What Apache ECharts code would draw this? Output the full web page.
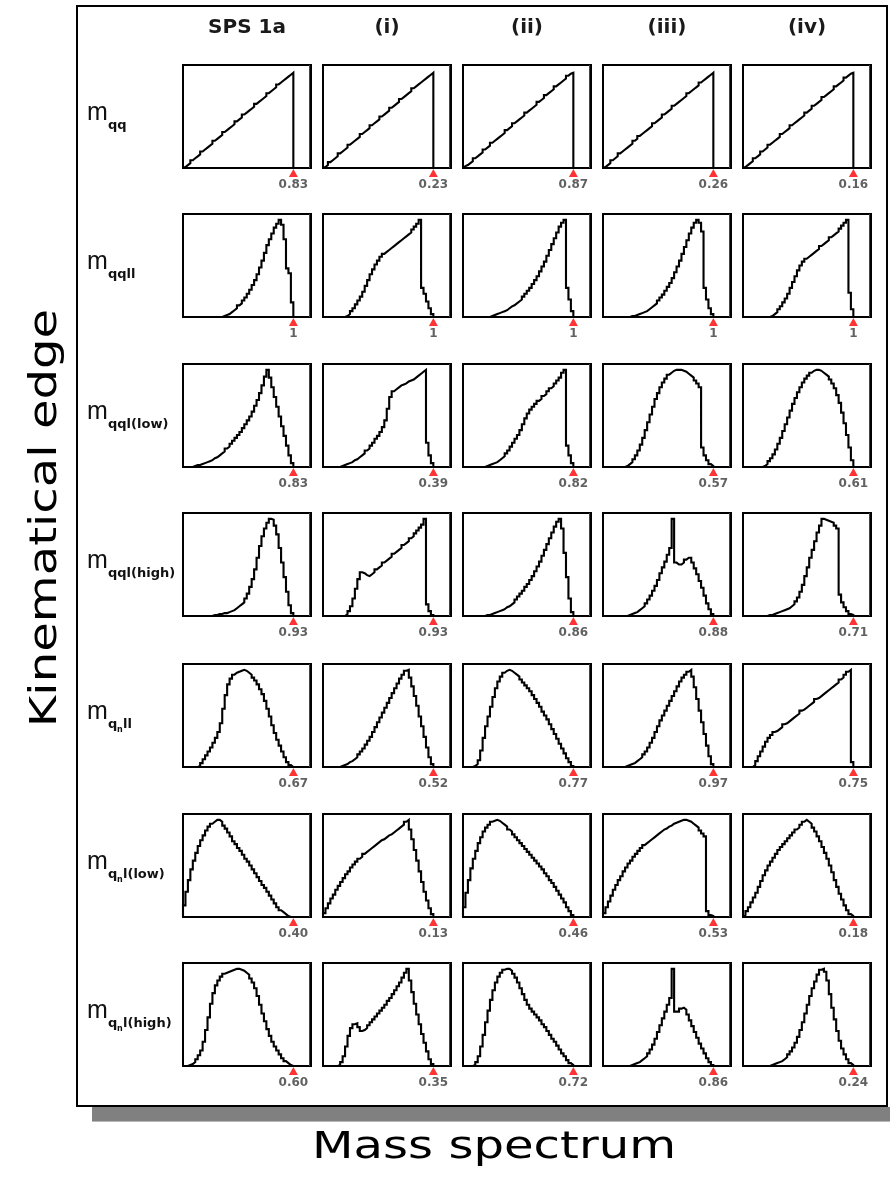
<!DOCTYPE html>
<html>
<head>
<meta charset="utf-8">
<script src="https://cdn.jsdelivr.net/npm/echarts@6/dist/echarts.min.js"></script>
<style>
  html, body { margin: 0; padding: 0; background: #fff; }
  #chart { width: 890px; height: 1182px; }
</style>
</head>
<body>
<div id="chart"></div>
<script>
// Benchmark scenarios (columns) and reconstructed invariant-mass distributions (rows)
const columns = ['SPS 1a', '(i)', '(ii)', '(iii)', '(iv)'];

// Subscript of each row's "m": plain subscript, or [q, n, rest] for q_n
const rowSubs = [
  ['qq'], ['qqll'], ['qql(low)'], ['qql(high)'],
  ['q', 'n', 'll'], ['q', 'n', 'l(low)'], ['q', 'n', 'l(high)']
];

// Value printed under the red edge marker of every panel
const edgeLabels = [
  ['0.83', '0.23', '0.87', '0.26', '0.16'],
  ['1', '1', '1', '1', '1'],
  ['0.83', '0.39', '0.82', '0.57', '0.61'],
  ['0.93', '0.93', '0.86', '0.88', '0.71'],
  ['0.67', '0.52', '0.77', '0.97', '0.75'],
  ['0.40', '0.13', '0.46', '0.53', '0.18'],
  ['0.60', '0.35', '0.72', '0.86', '0.24']
];

// Histograms: equal bins from 0 up to the kinematic edge (x = 1), peak normalised to 1
const edgeX = 1;

const h_mqq = [
  [0.01,0.03,0.05,0.08,0.10,0.12,0.14,0.17,0.19,0.21,0.23,0.25,0.28,0.30,0.32,0.34,0.37,0.39,0.41,0.43,0.45,0.48,0.50,0.52,0.55,0.57,0.59,0.61,0.63,0.66,0.68,0.70,0.72,0.74,0.77,0.79,0.81,0.83,0.86,0.88,0.90,0.92,0.94,0.96,0.98],
  [0.01,0.03,0.06,0.08,0.10,0.12,0.15,0.17,0.19,0.21,0.24,0.26,0.28,0.30,0.32,0.35,0.37,0.39,0.41,0.44,0.46,0.48,0.50,0.53,0.55,0.57,0.59,0.62,0.64,0.66,0.68,0.71,0.73,0.75,0.77,0.79,0.82,0.84,0.86,0.88,0.90,0.92,0.94,0.96,0.98],
  [0.02,0.03,0.05,0.07,0.10,0.12,0.14,0.16,0.19,0.21,0.23,0.26,0.28,0.30,0.32,0.34,0.36,0.39,0.41,0.43,0.46,0.48,0.50,0.52,0.54,0.57,0.59,0.61,0.63,0.65,0.68,0.70,0.72,0.75,0.77,0.79,0.81,0.84,0.86,0.88,0.90,0.92,0.95,0.97,0.98],
  [0.01,0.03,0.05,0.08,0.10,0.12,0.15,0.17,0.19,0.21,0.23,0.25,0.28,0.30,0.33,0.35,0.37,0.39,0.41,0.43,0.46,0.48,0.50,0.52,0.55,0.57,0.59,0.61,0.64,0.66,0.68,0.70,0.72,0.74,0.77,0.79,0.81,0.83,0.85,0.88,0.90,0.92,0.94,0.96,0.98],
  [0.01,0.03,0.05,0.07,0.10,0.12,0.14,0.17,0.19,0.21,0.24,0.26,0.28,0.30,0.32,0.35,0.37,0.39,0.41,0.44,0.46,0.48,0.50,0.52,0.54,0.57,0.59,0.61,0.64,0.66,0.68,0.70,0.73,0.75,0.77,0.79,0.81,0.84,0.86,0.88,0.90,0.93,0.95,0.97,0.98]
];

const h_mqqll = [
  [0,0,0,0,0,0,0,0,0,0,0,0,0,0,0,0,0.01,0.02,0.03,0.05,0.07,0.09,0.12,0.14,0.17,0.20,0.24,0.28,0.33,0.38,0.44,0.51,0.58,0.66,0.74,0.80,0.86,0.92,0.96,1.00,0.95,0.80,0.50,0.45,0.15],
  [0,0,0,0,0,0,0,0,0,0.01,0.03,0.06,0.09,0.13,0.17,0.21,0.26,0.32,0.38,0.44,0.49,0.54,0.58,0.62,0.65,0.67,0.69,0.71,0.73,0.75,0.77,0.79,0.81,0.83,0.85,0.87,0.90,0.93,0.96,1.00,0.30,0.24,0.16,0.09,0.03],
  [0,0,0,0,0,0,0,0,0,0,0,0.01,0.02,0.03,0.04,0.05,0.06,0.07,0.09,0.11,0.12,0.14,0.16,0.18,0.21,0.24,0.27,0.30,0.34,0.38,0.42,0.47,0.52,0.57,0.63,0.69,0.75,0.81,0.87,0.93,0.97,1.00,0.30,0.18,0.06],
  [0,0,0,0,0,0,0,0,0,0,0,0.01,0.01,0.02,0.03,0.04,0.05,0.06,0.08,0.10,0.12,0.14,0.17,0.20,0.23,0.27,0.31,0.35,0.40,0.46,0.52,0.58,0.65,0.72,0.79,0.86,0.92,0.97,1.00,0.97,0.88,0.30,0.18,0.09,0.03],
  [0,0,0,0,0,0,0,0,0,0,0,0.01,0.03,0.05,0.08,0.11,0.15,0.19,0.24,0.30,0.36,0.42,0.48,0.53,0.57,0.60,0.62,0.64,0.66,0.68,0.70,0.73,0.75,0.77,0.79,0.82,0.84,0.86,0.88,0.91,0.94,0.97,1.00,0.25,0.08]
];

const h_mqql_low = [
  [0,0,0,0,0.01,0.02,0.02,0.03,0.04,0.05,0.06,0.07,0.09,0.10,0.12,0.14,0.16,0.19,0.21,0.24,0.27,0.30,0.33,0.36,0.40,0.44,0.48,0.52,0.57,0.63,0.69,0.76,0.84,0.93,1.00,0.92,0.82,0.72,0.62,0.52,0.42,0.32,0.22,0.12,0.04],
  [0,0,0,0,0,0,0,0.01,0.02,0.03,0.04,0.05,0.07,0.08,0.10,0.12,0.14,0.17,0.19,0.22,0.25,0.29,0.32,0.36,0.41,0.48,0.60,0.72,0.78,0.80,0.82,0.84,0.85,0.86,0.88,0.89,0.90,0.92,0.94,0.96,0.98,1.00,0.25,0.12,0.04],
  [0,0,0,0,0,0,0,0,0,0.01,0.02,0.03,0.04,0.05,0.07,0.09,0.11,0.14,0.17,0.21,0.25,0.29,0.33,0.38,0.44,0.50,0.55,0.59,0.62,0.65,0.68,0.70,0.73,0.75,0.78,0.81,0.83,0.86,0.89,0.92,0.97,1.00,0.22,0.12,0.04],
  [0,0,0,0,0,0,0,0,0,0.01,0.03,0.05,0.08,0.12,0.17,0.23,0.30,0.38,0.46,0.54,0.62,0.70,0.76,0.82,0.87,0.91,0.95,0.97,0.99,1.00,1.00,1.00,0.99,0.98,0.96,0.94,0.92,0.89,0.86,0.82,0.20,0.12,0.07,0.03,0.01],
  [0,0,0,0,0,0,0,0,0.01,0.03,0.06,0.09,0.13,0.18,0.24,0.30,0.37,0.44,0.51,0.58,0.65,0.71,0.77,0.82,0.87,0.91,0.94,0.97,0.99,1.00,1.00,0.99,0.97,0.95,0.93,0.90,0.86,0.81,0.74,0.66,0.56,0.45,0.33,0.20,0.07]
];

const h_mqql_high = [
  [0,0,0,0,0,0,0,0,0,0,0,0,0.01,0.01,0.02,0.02,0.03,0.03,0.04,0.05,0.06,0.08,0.10,0.12,0.14,0.18,0.23,0.30,0.38,0.48,0.60,0.72,0.82,0.90,0.96,1.00,0.99,0.93,0.84,0.70,0.55,0.40,0.25,0.11,0.03],
  [0,0,0,0,0,0,0,0,0,0.02,0.05,0.10,0.18,0.28,0.38,0.45,0.44,0.42,0.41,0.43,0.45,0.48,0.50,0.52,0.55,0.57,0.59,0.61,0.64,0.66,0.68,0.70,0.73,0.75,0.77,0.80,0.82,0.85,0.88,0.91,0.94,1.00,0.12,0.05,0.01],
  [0,0,0,0,0,0,0,0,0,0.01,0.01,0.02,0.03,0.04,0.05,0.06,0.07,0.09,0.10,0.12,0.14,0.17,0.20,0.23,0.26,0.30,0.33,0.37,0.41,0.46,0.51,0.56,0.62,0.68,0.74,0.80,0.86,0.92,0.97,1.00,0.90,0.65,0.40,0.18,0.04],
  [0,0,0,0,0,0,0,0,0,0,0.01,0.02,0.03,0.04,0.06,0.08,0.10,0.13,0.17,0.21,0.26,0.31,0.37,0.44,0.50,0.56,0.63,0.70,1.00,0.55,0.53,0.53,0.55,0.58,0.60,0.60,0.55,0.49,0.43,0.36,0.29,0.21,0.13,0.07,0.02],
  [0,0,0,0,0,0,0,0,0,0,0.01,0.01,0.02,0.03,0.04,0.05,0.06,0.07,0.08,0.10,0.12,0.15,0.19,0.25,0.32,0.41,0.50,0.60,0.68,0.77,0.86,0.93,1.00,0.99,0.98,0.97,0.96,0.93,0.90,0.22,0.14,0.09,0.05,0.02,0.01]
];

const h_mqnll = [
  [0,0,0,0,0,0,0.01,0.04,0.08,0.12,0.16,0.20,0.25,0.30,0.36,0.45,0.60,0.74,0.85,0.91,0.95,0.97,0.98,0.99,1.00,0.99,0.97,0.95,0.92,0.89,0.85,0.80,0.75,0.68,0.60,0.52,0.43,0.35,0.28,0.22,0.16,0.10,0.05,0.02,0],
  [0,0,0,0,0,0,0,0.01,0.02,0.03,0.05,0.06,0.08,0.10,0.13,0.16,0.19,0.23,0.27,0.31,0.36,0.41,0.46,0.51,0.56,0.61,0.66,0.71,0.76,0.81,0.86,0.91,0.95,0.99,1.00,0.92,0.83,0.73,0.63,0.52,0.42,0.31,0.20,0.10,0.03],
  [0,0,0,0,0.01,0.03,0.07,0.17,0.30,0.42,0.52,0.62,0.72,0.81,0.88,0.93,0.97,0.99,1.00,0.99,0.97,0.95,0.93,0.90,0.87,0.84,0.81,0.78,0.74,0.70,0.66,0.62,0.57,0.53,0.49,0.44,0.39,0.34,0.29,0.24,0.19,0.14,0.09,0.05,0.01],
  [0,0,0,0,0,0,0,0,0,0.01,0.02,0.03,0.04,0.06,0.08,0.10,0.13,0.16,0.20,0.25,0.30,0.36,0.42,0.48,0.53,0.58,0.63,0.68,0.73,0.78,0.83,0.88,0.92,0.95,0.98,1.00,0.93,0.82,0.70,0.58,0.46,0.34,0.22,0.11,0.03],
  [0,0,0,0,0.02,0.06,0.11,0.16,0.21,0.26,0.30,0.33,0.36,0.37,0.39,0.41,0.44,0.45,0.47,0.49,0.51,0.53,0.55,0.58,0.59,0.61,0.63,0.65,0.67,0.70,0.71,0.73,0.75,0.77,0.79,0.81,0.83,0.85,0.87,0.90,0.92,0.95,0.98,1.00,0.05]
];

const h_mqnl_low = [
  [0.12,0.26,0.38,0.49,0.58,0.66,0.73,0.79,0.84,0.89,0.93,0.96,0.98,1.00,1.00,0.98,0.94,0.91,0.87,0.83,0.78,0.75,0.71,0.68,0.64,0.60,0.57,0.53,0.49,0.45,0.41,0.37,0.33,0.30,0.26,0.22,0.18,0.14,0.10,0.07,0.05,0.03,0.01,0,0],
  [0.04,0.09,0.14,0.19,0.23,0.28,0.32,0.36,0.40,0.44,0.47,0.51,0.54,0.57,0.60,0.62,0.65,0.67,0.69,0.71,0.73,0.75,0.77,0.79,0.80,0.82,0.84,0.85,0.87,0.89,0.91,0.93,0.95,0.98,1.00,0.90,0.80,0.69,0.58,0.47,0.36,0.26,0.17,0.09,0.03],
  [0.10,0.25,0.38,0.50,0.60,0.68,0.76,0.82,0.88,0.92,0.95,0.98,0.99,1.00,0.99,0.97,0.95,0.93,0.90,0.88,0.85,0.82,0.79,0.76,0.73,0.70,0.67,0.64,0.61,0.58,0.55,0.52,0.49,0.45,0.42,0.38,0.35,0.31,0.27,0.23,0.19,0.15,0.10,0.06,0.02],
  [0.04,0.10,0.16,0.22,0.28,0.33,0.38,0.42,0.47,0.51,0.55,0.58,0.62,0.65,0.68,0.71,0.74,0.76,0.78,0.80,0.82,0.84,0.86,0.88,0.90,0.91,0.93,0.94,0.96,0.97,0.98,0.99,1.00,1.00,0.99,0.98,0.96,0.94,0.92,0.89,0.86,0.83,0.06,0.02,0.01],
  [0.02,0.06,0.10,0.15,0.20,0.25,0.31,0.37,0.43,0.48,0.53,0.57,0.61,0.65,0.69,0.72,0.75,0.78,0.81,0.84,0.87,0.90,0.92,0.95,0.98,1.00,0.98,0.96,0.92,0.88,0.83,0.78,0.72,0.66,0.60,0.53,0.46,0.38,0.31,0.24,0.18,0.12,0.07,0.03,0.01]
];

const h_mqnl_high = [
  [0,0,0.01,0.02,0.04,0.07,0.11,0.16,0.25,0.37,0.50,0.64,0.75,0.83,0.88,0.92,0.95,0.96,0.97,0.98,0.99,1.00,1.00,0.99,0.98,0.96,0.94,0.90,0.86,0.80,0.72,0.63,0.54,0.46,0.38,0.31,0.25,0.20,0.16,0.12,0.08,0.05,0.03,0.01,0],
  [0,0,0,0,0,0,0.01,0.04,0.10,0.20,0.31,0.39,0.43,0.44,0.40,0.36,0.37,0.39,0.42,0.45,0.48,0.51,0.54,0.57,0.60,0.63,0.67,0.70,0.74,0.78,0.82,0.86,0.91,0.96,1.00,0.88,0.76,0.64,0.53,0.43,0.33,0.24,0.15,0.07,0.02],
  [0,0,0,0,0.01,0.04,0.10,0.20,0.32,0.45,0.57,0.68,0.78,0.86,0.92,0.96,0.99,1.00,1.00,0.98,0.95,0.91,0.86,0.80,0.74,0.68,0.63,0.59,0.56,0.53,0.50,0.47,0.43,0.40,0.36,0.32,0.28,0.25,0.21,0.17,0.13,0.10,0.06,0.03,0.01],
  [0,0,0,0,0,0,0,0,0,0,0,0.01,0.02,0.03,0.04,0.06,0.08,0.10,0.13,0.17,0.22,0.28,0.35,0.42,0.49,0.56,0.63,0.70,1.00,0.56,0.56,0.59,0.60,0.58,0.53,0.47,0.41,0.35,0.29,0.23,0.18,0.13,0.08,0.04,0.01],
  [0,0,0,0,0,0,0,0,0,0,0,0.01,0.02,0.03,0.04,0.05,0.07,0.09,0.12,0.15,0.19,0.24,0.30,0.37,0.45,0.54,0.63,0.72,0.80,0.87,0.94,0.99,1.00,0.97,0.88,0.74,0.60,0.48,0.36,0.26,0.18,0.12,0.07,0.03,0.01]
];

const histRows = [h_mqq, h_mqqll, h_mqql_low, h_mqql_high, h_mqnll, h_mqnl_low, h_mqnl_high];

// ---- layout of the panel matrix ----
const colLeft = [183, 323, 463, 603, 743];
const rowTop = [65, 214, 364, 513, 664, 814, 963];
const panelW = 128, panelH = 103;
const xMax = 1.16, yMax = 1.06;

const grid = [], xAxis = [], yAxis = [], series = [], elements = [];

histRows.forEach((rowHists, r) => {
  rowHists.forEach((vals, c) => {
    const idx = r * columns.length + c;
    grid.push({
      left: colLeft[c], top: rowTop[r], width: panelW, height: panelH,
      show: true, borderColor: '#000', borderWidth: 2, backgroundColor: 'transparent'
    });
    xAxis.push({ type: 'value', gridIndex: idx, min: 0, max: xMax, show: false });
    yAxis.push({ type: 'value', gridIndex: idx, min: 0, max: yMax, show: false });

    // step outline: each bin value holds from its lower edge to the next edge
    const binW = edgeX / vals.length;
    const pts = [[0, 0]];
    vals.forEach((v, i) => pts.push([i * binW, v]));
    pts.push([edgeX, 0]);

    series.push({
      type: 'line', xAxisIndex: idx, yAxisIndex: idx, data: pts, step: 'end',
      showSymbol: false, silent: true, animation: false, z: 3,
      lineStyle: { color: '#000', width: 2.1, join: 'miter' },
      markLine: {
        silent: true, animation: false, symbol: ['none', 'none'],
        label: { show: false },
        lineStyle: { color: '#e00000', width: 1, type: 'solid' },
        data: [{ xAxis: 1.135 }]
      }
    });
    series.push({
      type: 'scatter', xAxisIndex: idx, yAxisIndex: idx, data: [[edgeX, 0]],
      symbol: 'triangle', symbolSize: [9, 8], symbolOffset: [0, 5],
      itemStyle: { color: '#ff0000' }, clip: false, silent: true, animation: false, z: 5,
      label: {
        show: true, position: 'bottom', distance: 2,
        formatter: edgeLabels[r][c],
        fontFamily: 'DejaVu Sans', fontWeight: 'bold', fontSize: 12, color: '#3a3a3a'
      }
    });
  });
});

// column headers
columns.forEach((name, c) => {
  elements.push({
    type: 'text', x: colLeft[c] + panelW / 2, y: 28, silent: true,
    style: { text: name, font: 'bold 20px "DejaVu Sans"', fill: '#1a1a1a', align: 'center', verticalAlign: 'middle' }
  });
});

// row labels: m with (nested) subscripts
rowSubs.forEach((sub, r) => {
  const yc = rowTop[r] + panelH / 2 - 3;
  elements.push({
    type: 'text', x: 87, y: yc, silent: true,
    style: { text: 'm', font: '25px "Liberation Sans"', fill: '#111', align: 'left', verticalAlign: 'middle' }
  });
  const subFont = 'bold 13px "DejaVu Sans"';
  const subY = yc + 12;
  if (sub.length === 1) {
    elements.push({
      type: 'text', x: 108, y: subY, silent: true,
      style: { text: sub[0], font: subFont, fill: '#111', align: 'left', verticalAlign: 'middle' }
    });
  } else {
    elements.push({
      type: 'text', x: 108, y: subY, silent: true,
      style: { text: sub[0], font: subFont, fill: '#111', align: 'left', verticalAlign: 'middle' }
    });
    elements.push({
      type: 'text', x: 117, y: subY + 5, silent: true,
      style: { text: sub[1], font: 'bold 8px "DejaVu Sans"', fill: '#111', align: 'left', verticalAlign: 'middle' }
    });
    elements.push({
      type: 'text', x: 123, y: subY, silent: true,
      style: { text: sub[2], font: subFont, fill: '#111', align: 'left', verticalAlign: 'middle' }
    });
  }
});

// frame with drop shadow
elements.push({
  type: 'rect', silent: true, z: -10,
  shape: { x: 92, y: 1107, width: 800, height: 14 },
  style: { fill: '#808080' }
});
elements.push({
  type: 'rect', silent: true, z: -10,
  shape: { x: 92, y: 1121, width: 800, height: 1 },
  style: { fill: '#b8b8b8' }
});
elements.push({
  type: 'rect', silent: true, z: -5,
  shape: { x: 77, y: 6, width: 810, height: 1100 },
  style: { fill: 'none', stroke: '#000', lineWidth: 2 }
});

// axis titles
elements.push({
  type: 'text', x: 46, y: 518, rotation: Math.PI / 2, scaleX: 1.3, silent: true,
  style: { text: 'Kinematical edge', font: '37px "DejaVu Sans"', fill: '#000', align: 'center', verticalAlign: 'middle' }
});
elements.push({
  type: 'text', x: 494, y: 1148, scaleX: 1.3, silent: true,
  style: { text: 'Mass spectrum', font: '37px "DejaVu Sans"', fill: '#000', align: 'center', verticalAlign: 'middle' }
});

const chart = echarts.init(document.getElementById('chart'), null, { renderer: 'canvas' });
chart.setOption({
  backgroundColor: '#fff',
  animation: false,
  grid, xAxis, yAxis, series,
  graphic: { elements }
});
</script>
</body>
</html>
